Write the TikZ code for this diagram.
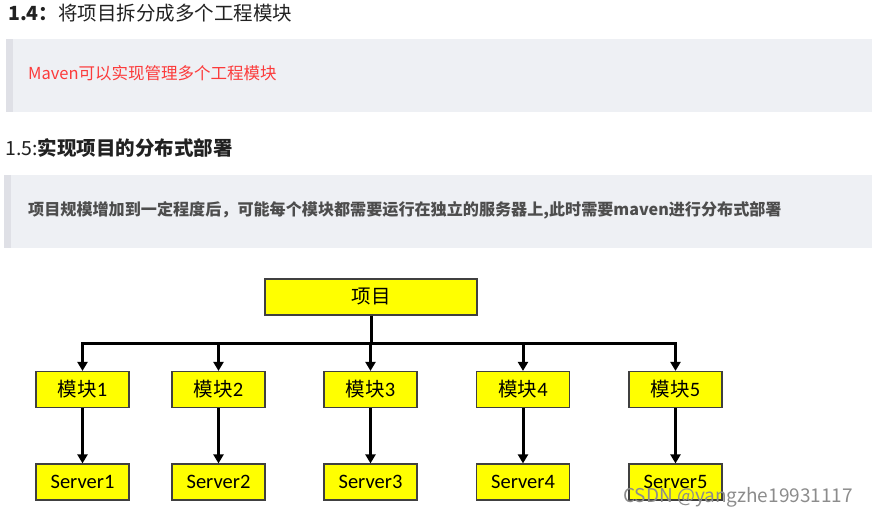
\documentclass[tikz,border=0pt]{standalone}
\usepackage{fontspec}
\setmainfont{Noto Sans CJK SC}
\newfontfamily\carlito{Carlito}
\usetikzlibrary{arrows.meta}

\definecolor{quotebg}{HTML}{EEF0F4}
\definecolor{quotebar}{HTML}{DFE0E6}
\definecolor{notered}{HTML}{FC3B3B}
\definecolor{notegray}{HTML}{4D4D4D}
\definecolor{boxyellow}{HTML}{FFFF00}
\definecolor{boxline}{HTML}{404040}

\tikzset{
  heading/.style={anchor=west, inner sep=0pt, text=black!87, font=\fontsize{19.5}{22}\selectfont},
  note/.style={anchor=west, inner sep=0pt, font=\fontsize{16.5}{19}\selectfont},
  block/.style={draw=boxline, fill=boxyellow, line width=1.2pt, minimum width=93pt,
    minimum height=36pt, inner sep=0pt, font=\fontsize{19.5}{22}\selectfont},
  server/.style={block, font=\fontsize{20.5}{22}\selectfont\carlito},
  link/.style={line width=3pt},
  linkarrow/.style={line width=3pt, -{Triangle[length=9pt,width=10pt]}},
}

\begin{document}
\begin{tikzpicture}[x=1pt,y=-1pt]
  \useasboundingbox (0,0) rectangle (874,519);

  % headings and quote boxes
  \node[heading] (h14) at (8,13) {\textbf{1.4：}将项目拆分成多个工程模块};
  \fill[quotebg] (6,39) rectangle (872,112);
  \fill[quotebar] (6,39) rectangle (13,112);
  \node[note, text=notered] (n14) at (28,73) {Maven可以实现管理多个工程模块};

  \node[heading] (h15) at (5,148) {1.5:\textbf{实现项目的分布式部署}};
  \fill[quotebg] (4,175) rectangle (872,248);
  \fill[quotebar] (4,175) rectangle (11,248);
  \node[note, text=notegray, font=\fontsize{16.1}{19}\selectfont\bfseries] (n15) at (28,210)
    {项目规模增加到一定程度后，可能每个模块都需要运行在独立的服务器上,此时需要maven进行分布式部署};

  % tree
  \node[block, minimum width=212pt] (proj) at (371,297) {项目};
  \node[block] (m1) at (82.5,389.5) {模块{\carlito\fontsize{20.5}{22}\selectfont 1}};
  \node[block] (m2) at (218.5,389.5) {模块{\carlito\fontsize{20.5}{22}\selectfont 2}};
  \node[block] (m3) at (370.5,389.5) {模块{\carlito\fontsize{20.5}{22}\selectfont 3}};
  \node[block] (m4) at (523,389.5) {模块{\carlito\fontsize{20.5}{22}\selectfont 4}};
  \node[block] (m5) at (675.5,389.5) {模块{\carlito\fontsize{20.5}{22}\selectfont 5}};
  \node[server] (s1) at (82.5,482) {Server1};
  \node[server] (s2) at (218.5,482) {Server2};
  \node[server] (s3) at (370.5,482) {Server3};
  \node[server] (s4) at (523,482) {Server4};
  \node[server] (s5) at (675.5,482) {Server5};

  \coordinate (bar) at (371,343);
  \draw[link] (proj.south) -- (bar);
  \foreach \i in {1,...,5} {
    \draw[linkarrow] (bar) -| (m\i.north);
    \draw[linkarrow] (m\i.south) -- (s\i.north);
  }

  % watermark
  \node[anchor=west, inner sep=0pt, text=black!45, font=\fontsize{19}{22}\selectfont] (wm) at (623,497) {CSDN @yangzhe19931117};
\end{tikzpicture}
\end{document}
